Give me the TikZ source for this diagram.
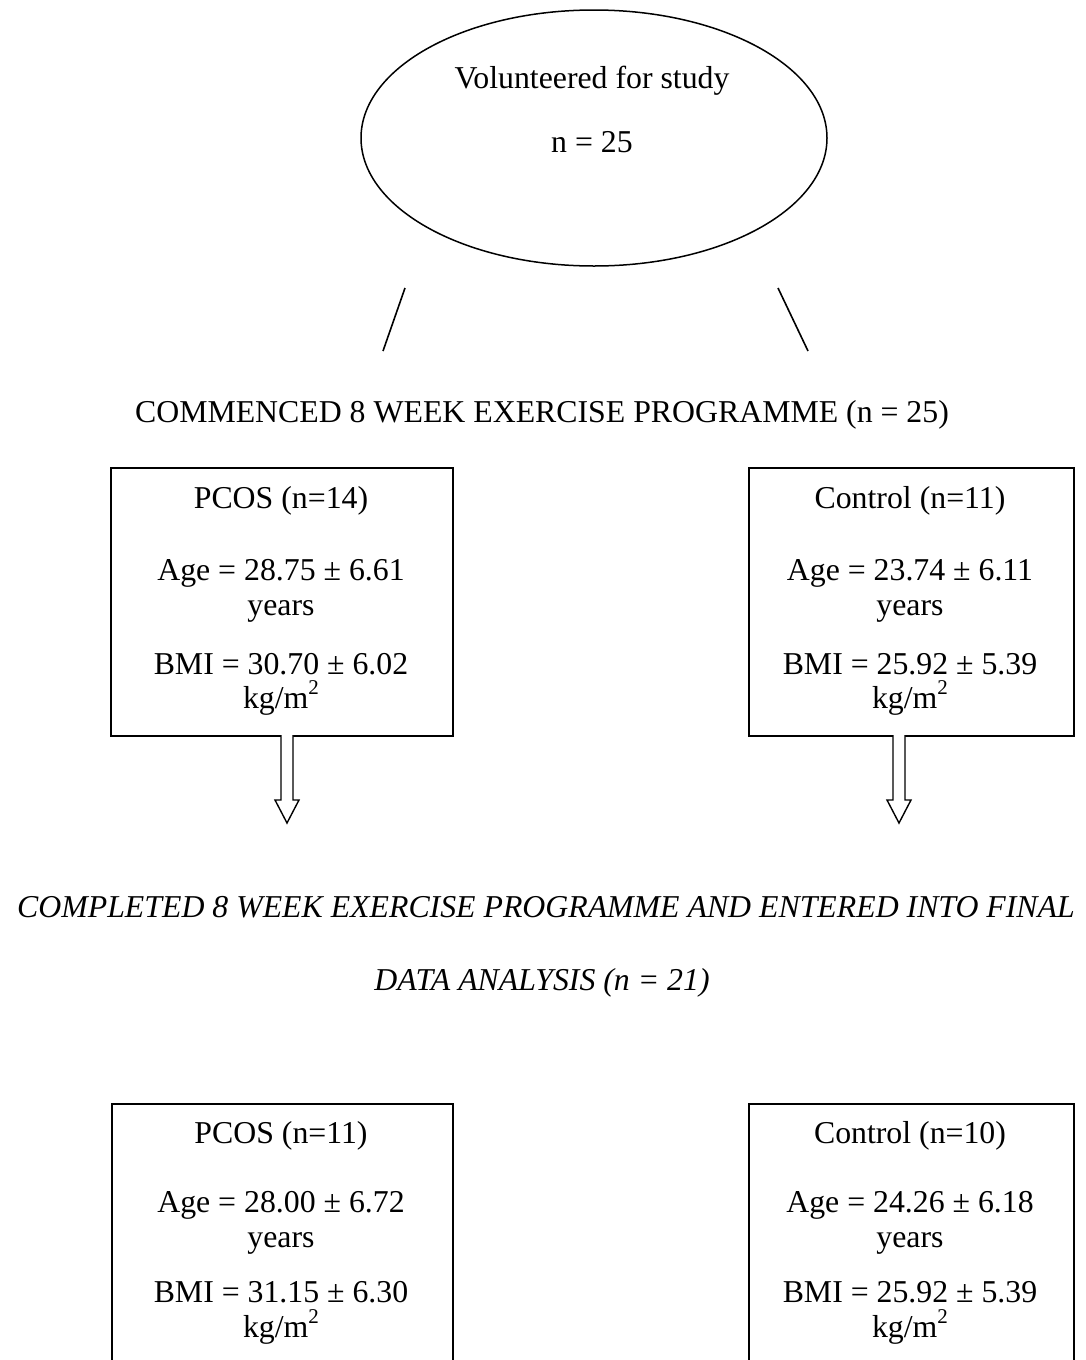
\documentclass[tikz,border=0pt]{standalone}
\usepackage{fontspec}
\setmainfont{Liberation Serif}
\usetikzlibrary{shapes.geometric,calc}
\newcommand{\sqsup}{\raisebox{0.42em}{\fontsize{21}{21}\selectfont 2}}
\begin{document}
\begin{tikzpicture}[x=1pt,y=-1pt,
  txt/.style={inner sep=0pt,anchor=base,font=\fontsize{31.8}{38}\selectfont},
  itxt/.style={txt,font=\fontsize{31.8}{38}\selectfont\itshape},
  boxline/.style={draw,line width=1.7pt},
  hollow/.style={draw,line width=1.4pt,fill=white}]
\useasboundingbox (0,0) rectangle (1085,1360);
\clip (0,0) rectangle (1085,1360);
% ellipse
\node[draw,ellipse,line width=1.5pt,minimum width=466pt,minimum height=256pt,inner sep=0pt] (vol) at (594,138) {};
\node[txt] (volA) at (592,88) {Volunteered for study};
\node[txt] (volB) at (592,152) {n = 25};
% diagonal lines
\coordinate (l1) at (405,288); \coordinate (l2) at (383,351);
\coordinate (r1) at (778,288); \coordinate (r2) at (808,351);
\draw[line width=1.6pt] (l1) -- (l2);
\draw[line width=1.6pt] (r1) -- (r2);
\node[txt] (comm) at (542,422) {COMMENCED 8 WEEK EXERCISE PROGRAMME (n = 25)};
% upper boxes
\node[boxline,minimum width=342pt,minimum height=268pt,inner sep=0pt,anchor=north west] (b1) at (110,467) {};
\node[boxline,minimum width=325pt,minimum height=268pt,inner sep=0pt,anchor=north west] (b2) at (748,467) {};
\node[txt] (b1a) at (281,508) {PCOS (n=14)};
\node[txt] (b1b) at (281,580) {Age = 28.75 \textpm{} 6.61};
\node[txt] (b1c) at (281,615) {years};
\node[txt] (b1d) at (281,674) {BMI = 30.70 \textpm{} 6.02};
\node[txt] (b1e) at (281,708) {kg/m\sqsup};
\node[txt] (b2a) at (910,508) {Control (n=11)};
\node[txt] (b2b) at (910,580) {Age = 23.74 \textpm{} 6.11};
\node[txt] (b2c) at (910,615) {years};
\node[txt] (b2d) at (910,674) {BMI = 25.92 \textpm{} 5.39};
\node[txt] (b2e) at (910,708) {kg/m\sqsup};
% hollow arrows
\coordinate (a1) at (287,735);
\coordinate (a2) at (899,735);
\foreach \a in {a1,a2}{
  \draw[hollow] ($(\a)+(-6,0)$) -- ++(0,65) -- ++(-6,0) -- ($(\a)+(0,88)$) -- ($(\a)+(12,65)$) -- ++(-6,0) -- ($(\a)+(6,0)$);
}
% completed text
\node[itxt] (compA) at (546,917) {COMPLETED 8 WEEK EXERCISE PROGRAMME AND ENTERED INTO FINAL};
\node[itxt] (compB) at (542,990) {DATA ANALYSIS (n = 21)};
% lower boxes
\node[boxline,minimum width=341pt,minimum height=300pt,inner sep=0pt,anchor=north west] (b3) at (111,1103) {};
\node[boxline,minimum width=325pt,minimum height=300pt,inner sep=0pt,anchor=north west] (b4) at (748,1103) {};
\node[txt] (b3a) at (281,1143) {PCOS (n=11)};
\node[txt] (b3b) at (281,1212) {Age = 28.00 \textpm{} 6.72};
\node[txt] (b3c) at (281,1247) {years};
\node[txt] (b3d) at (281,1302) {BMI = 31.15 \textpm{} 6.30};
\node[txt] (b3e) at (281,1337) {kg/m\sqsup};
\node[txt] (b4a) at (910,1143) {Control (n=10)};
\node[txt] (b4b) at (910,1212) {Age = 24.26 \textpm{} 6.18};
\node[txt] (b4c) at (910,1247) {years};
\node[txt] (b4d) at (910,1302) {BMI = 25.92 \textpm{} 5.39};
\node[txt] (b4e) at (910,1337) {kg/m\sqsup};
\end{tikzpicture}
\end{document}
